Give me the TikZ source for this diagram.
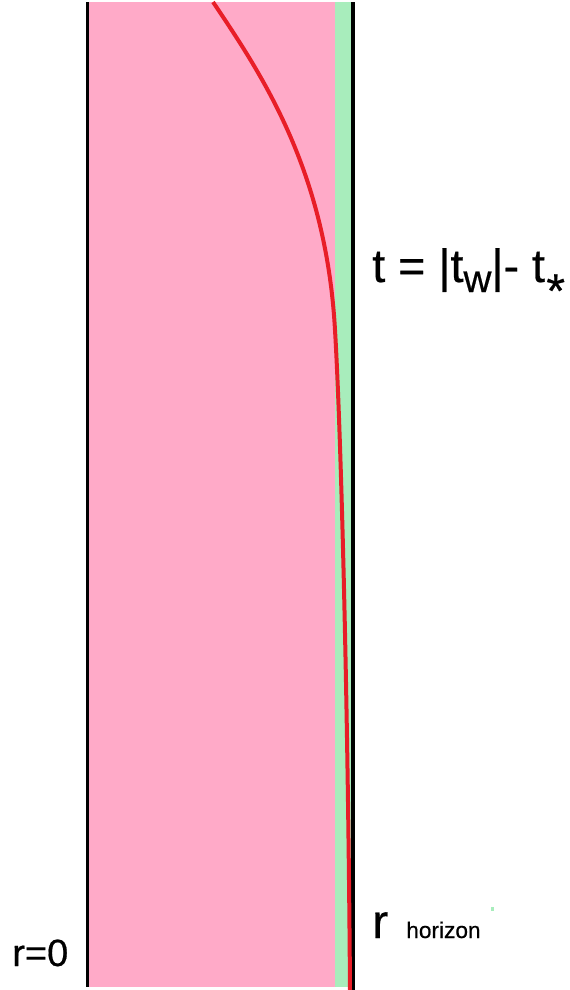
\documentclass[tikz,border=0pt]{standalone}
\usepackage{fontspec}
\setmainfont[FakeBold=0.5]{Liberation Sans}
\definecolor{pinkfill}{RGB}{255,170,200}
\definecolor{greenfill}{RGB}{168,237,188}
\definecolor{curvered}{RGB}{232,30,40}
\begin{document}
\begin{tikzpicture}[x=0.75pt,y=-0.75pt,
  lbl/.style={inner sep=0pt,anchor=base west},
  wall/.style={line width=2.6pt,black},
  curve/.style={line width=3pt,curvered}]
\useasboundingbox (0,0) rectangle (569,990);
\fill[white] (0,0) rectangle (569,990);
% regions
\fill[pinkfill] (89,2) rectangle (335,987);
\fill[greenfill] (335,2) rectangle (352,987);
% walls
\draw[wall] (87.5,2) -- (87.5,987);
\draw[wall] (353,2) -- (353,990);
% curve
\coordinate (c0) at (213,2);
\coordinate (c1) at (335,330);
\coordinate (c2) at (350,990);
\draw[curve] (c0) .. controls (262,75) and (326,170) .. (c1)
  .. controls (341,430) and (348,700) .. (c2);
% labels
\node[lbl] (tlabel) at (372,282) {\fontsize{35}{35}\selectfont t = |t\raisebox{-7.5pt}{\fontsize{29}{29}\selectfont w}|- t\hspace{1pt}\raisebox{-19pt}{\fontsize{36}{36}\selectfont *}};
\node[lbl] (rh) at (372,938) {\fontsize{36}{36}\selectfont r};
\node[lbl] (hz) at (406,938) {\fontsize{17}{17}\selectfont horizon};
\node[lbl] (r0) at (12,966) {\fontsize{28.5}{28.5}\selectfont r=0};
\fill[greenfill] (491,907) rectangle (494,911);
\end{tikzpicture}
\end{document}
